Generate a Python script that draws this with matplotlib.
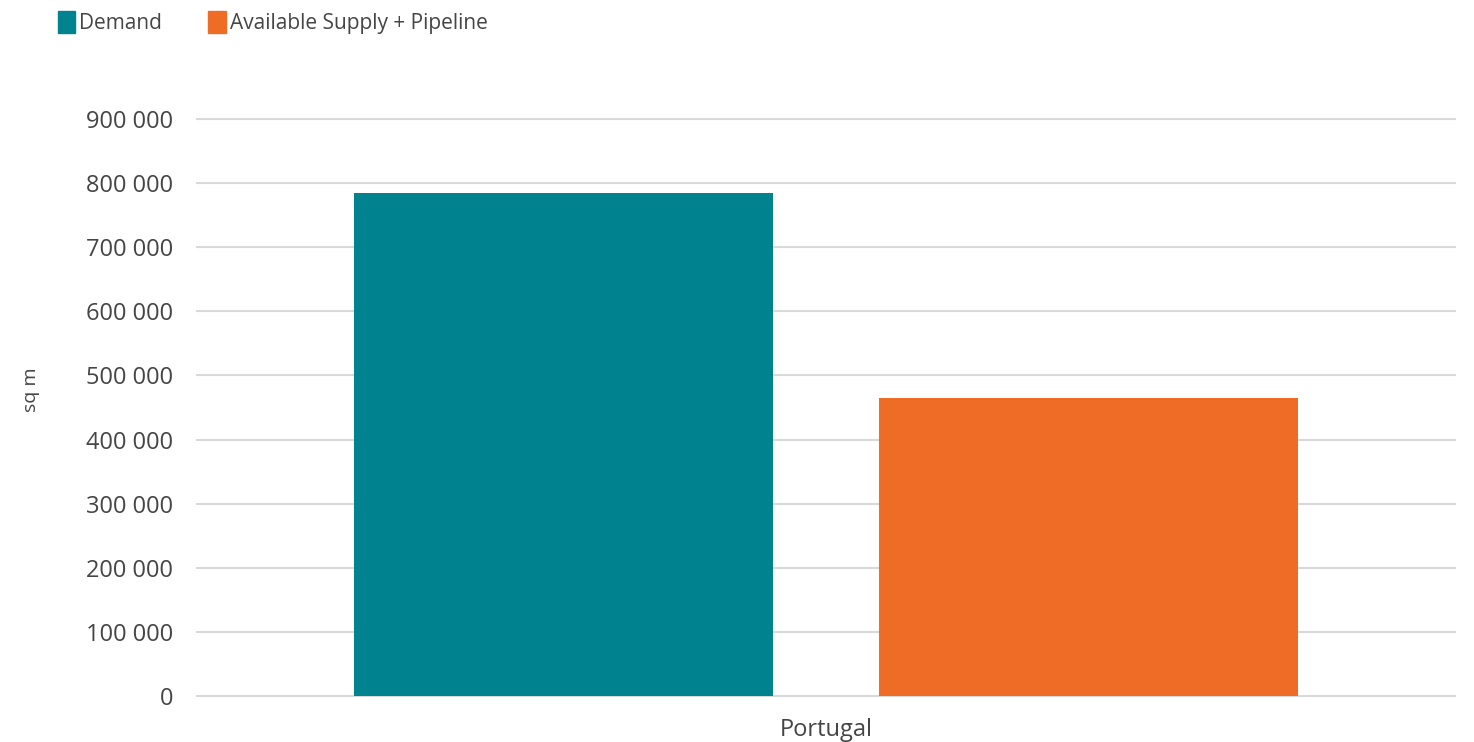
import matplotlib
matplotlib.use("Agg")
import matplotlib.pyplot as plt
import matplotlib.patches as mpatches
import numpy as np

plt.rcParams["font.family"] = ["Open Sans", "DejaVu Sans"]

categories = ["Portugal"]
series_names = ["Demand", "Available Supply + Pipeline"]
demand = [785000]
supply = [465000]
yticks = [0, 100000, 200000, 300000, 400000, 500000, 600000, 700000, 800000, 900000]

colors = ["#00838F", "#EE6C25"]
text_color = "#454545"
grid_color = "#D9D9D9"

W, H = 1474, 742
fig = plt.figure(figsize=(W / 100, H / 100), dpi=100)
ax = fig.add_axes([197 / W, 1 - 696 / H, (1455 - 197) / W, (696 - 119) / H])

x = np.arange(len(categories))
width = 0.333
offset = 0.2085
ax.bar(x - offset, demand, width, color=colors[0], zorder=3)
ax.bar(x + offset, supply, width, color=colors[1], zorder=3)

ax.set_xlim(-0.5, 0.5)
ax.set_ylim(0, 900000)
ax.set_yticks(yticks)
ax.set_yticklabels([f"{v:,}".replace(",", " ") for v in yticks])
ax.set_xticks(x)
ax.set_xticklabels(categories)

# horizontal gridlines, including the baseline at 0
for v in yticks:
    ax.axhline(v, color=grid_color, linewidth=1.5, zorder=1, clip_on=False)

for s in ax.spines.values():
    s.set_visible(False)
ax.tick_params(axis="both", length=0, colors=text_color, labelsize=17)
ax.tick_params(axis="y", pad=17)
ax.tick_params(axis="x", pad=16)

ax.set_ylabel("sq m", color=text_color, fontsize=14)
ax.yaxis.set_label_coords(40 / W, 1 - 390 / H, transform=fig.transFigure)

handles = [mpatches.Patch(color=c) for c in colors]
fig.legend(handles, series_names, loc="upper left", bbox_to_anchor=(43 / W, 1.0 + 4 / H),
           ncol=2, frameon=False, fontsize=15, labelcolor=text_color,
           handlelength=0.85, handleheight=1.25, handletextpad=0.2, columnspacing=2.2,
           borderaxespad=0.3)

fig.savefig("out.png", dpi=100)
